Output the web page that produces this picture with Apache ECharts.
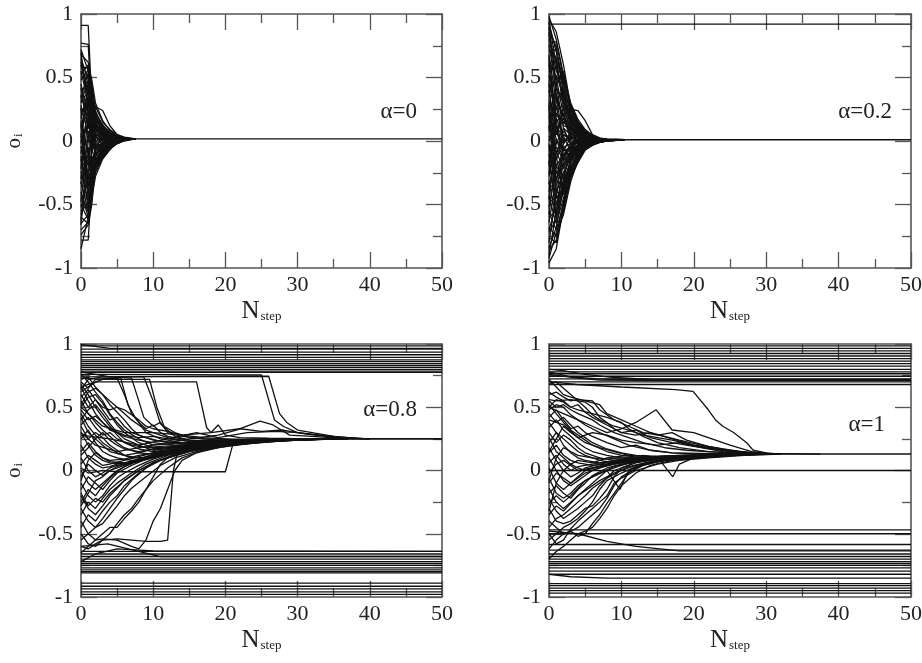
<!DOCTYPE html>
<html>
<head>
<meta charset="utf-8">
<script src="https://cdn.jsdelivr.net/npm/echarts@6/dist/echarts.min.js"></script>
<style>
html,body{margin:0;padding:0;background:#fff;}
#chart{width:922px;height:663px;}
</style>
</head>
<body>
<div id="chart"></div>
<script>
// ---------------- DATA ----------------
const xTicks = [0, 10, 20, 30, 40, 50];
const yTicks = [-1, -0.5, 0, 0.5, 1];
const panelLabels = ['α=0', 'α=0.2', 'α=0.8', 'α=1'];

// alpha = 0 : values on a shared step grid
const steps00 = [0, 1, 1.5, 2, 3, 4, 5, 6, 7.5];
const traj00 = [
  [0.91, 0.91, 0.30, 0.18, 0.10, 0.06, 0.04, 0.025, 0.016],
  [0.77, 0.76, 0.20, 0.10, 0.05, 0.03, 0.02, 0.018, 0.016],
  [0.72, 0.55, 0.40, 0.22, 0.12, 0.07, 0.04, 0.02, 0.016],
  [0.65, 0.48, 0.35, 0.27, 0.15, 0.09, 0.05, 0.03, 0.016],
  [0.58, 0.58, 0.42, 0.20, 0.08, 0.04, 0.03, 0.02, 0.016],
  [0.55, 0.30, 0.15, 0.05, -0.03, 0.01, 0.02, 0.02, 0.016],
  [0.50, 0.52, 0.25, 0.12, 0.06, 0.03, 0.02, 0.017, 0.016],
  [0.45, 0.20, 0.38, 0.16, 0.09, 0.05, 0.03, 0.02, 0.016],
  [0.40, 0.44, 0.10, -0.05, 0.02, 0.00, 0.01, 0.015, 0.016],
  [0.36, 0.15, 0.22, 0.14, 0.07, 0.04, 0.025, 0.02, 0.016],
  [0.32, 0.38, 0.05, 0.08, 0.03, 0.02, 0.018, 0.016, 0.016],
  [0.28, 0.05, -0.10, 0.02, 0.05, 0.03, 0.02, 0.017, 0.016],
  [0.24, 0.28, 0.30, 0.27, 0.24, 0.12, 0.05, 0.025, 0.016],
  [0.20, 0.30, 0.18, 0.10, 0.04, 0.02, 0.016, 0.016, 0.016],
  [0.16, -0.10, 0.00, -0.04, -0.02, 0.00, 0.01, 0.014, 0.016],
  [0.12, 0.22, -0.05, 0.06, 0.01, 0.03, 0.02, 0.016, 0.016],
  [0.08, 0.10, 0.12, 0.00, 0.04, 0.01, 0.015, 0.016, 0.016],
  [0.04, -0.20, -0.15, -0.08, -0.04, -0.01, 0.00, 0.012, 0.016],
  [0.00, 0.12, 0.08, 0.10, 0.02, 0.02, 0.018, 0.016, 0.016],
  [-0.04, -0.30, -0.22, -0.12, -0.05, -0.02, 0.00, 0.01, 0.016],
  [-0.08, 0.02, 0.14, 0.03, 0.00, 0.01, 0.015, 0.016, 0.016],
  [-0.12, -0.40, -0.18, -0.15, -0.12, -0.06, -0.02, 0.005, 0.016],
  [-0.16, -0.05, -0.25, -0.02, 0.02, 0.00, 0.01, 0.015, 0.016],
  [-0.20, -0.15, 0.05, -0.10, -0.03, -0.01, 0.01, 0.014, 0.016],
  [-0.24, -0.48, -0.30, -0.20, -0.12, -0.06, -0.02, 0.00, 0.016],
  [-0.28, -0.25, -0.10, 0.05, 0.03, 0.02, 0.016, 0.016, 0.016],
  [-0.32, -0.55, -0.35, -0.18, -0.08, -0.03, 0.00, 0.01, 0.016],
  [-0.36, -0.35, -0.20, -0.06, -0.01, 0.01, 0.015, 0.016, 0.016],
  [-0.40, -0.60, -0.28, -0.22, -0.14, -0.07, -0.01, 0.01, 0.016],
  [-0.45, -0.42, -0.40, -0.15, -0.06, -0.02, 0.005, 0.012, 0.016],
  [-0.50, -0.62, -0.15, -0.08, -0.02, 0.00, 0.01, 0.015, 0.016],
  [-0.55, -0.50, -0.38, -0.23, -0.11, -0.04, 0.00, 0.01, 0.016],
  [-0.60, -0.65, -0.45, -0.12, -0.04, -0.01, 0.01, 0.015, 0.016],
  [-0.65, -0.58, -0.30, -0.20, -0.09, -0.03, 0.00, 0.012, 0.016],
  [-0.70, -0.64, -0.42, -0.25, -0.13, -0.05, -0.01, 0.01, 0.016],
  [-0.78, -0.78, -0.30, -0.16, -0.07, -0.02, 0.005, 0.012, 0.016],
  [-0.85, -0.60, -0.36, -0.10, -0.05, -0.02, 0.00, 0.01, 0.016],
  [0.68, 0.62, 0.45, 0.24, 0.10, 0.05, 0.03, 0.02, 0.016],
  [0.62, 0.40, 0.28, 0.12, 0.06, 0.03, 0.02, 0.018, 0.016],
  [0.48, 0.56, 0.33, 0.20, 0.11, 0.06, 0.035, 0.02, 0.016],
  [0.30, 0.48, 0.20, 0.07, 0.00, 0.01, 0.015, 0.016, 0.016],
  [0.10, 0.35, 0.02, -0.06, -0.03, 0.00, 0.012, 0.016, 0.016],
  [-0.10, 0.25, -0.08, 0.04, 0.06, 0.04, 0.025, 0.018, 0.016],
  [-0.30, 0.18, 0.10, 0.13, 0.08, 0.05, 0.03, 0.02, 0.016],
  [-0.52, -0.30, -0.05, 0.00, 0.02, 0.02, 0.018, 0.016, 0.016],
  [0.26, -0.35, -0.32, -0.10, -0.06, -0.02, 0.00, 0.012, 0.016],
  [0.14, -0.45, -0.12, -0.18, -0.05, -0.015, 0.005, 0.012, 0.016],
  [-0.66, 0.00, 0.25, 0.09, 0.05, 0.03, 0.02, 0.017, 0.016],
  [0.60, 0.35, 0.10, 0.15, 0.05, 0.03, 0.02, 0.017, 0.016],
  [0.52, 0.60, 0.48, 0.30, 0.16, 0.08, 0.04, 0.02, 0.016],
  [0.42, 0.10, 0.30, 0.22, 0.13, 0.06, 0.03, 0.02, 0.016],
  [0.34, 0.54, 0.36, 0.18, 0.08, 0.04, 0.025, 0.018, 0.016],
  [0.18, 0.40, 0.15, -0.02, -0.04, -0.01, 0.01, 0.014, 0.016],
  [0.06, -0.35, -0.25, -0.14, -0.07, -0.03, 0.00, 0.01, 0.016],
  [-0.02, 0.45, 0.20, 0.12, 0.06, 0.03, 0.02, 0.017, 0.016],
  [-0.14, -0.52, -0.40, -0.20, -0.09, -0.04, -0.01, 0.008, 0.016],
  [-0.22, 0.32, 0.28, 0.16, 0.09, 0.05, 0.03, 0.02, 0.016],
  [-0.34, -0.10, -0.30, -0.22, -0.10, -0.04, 0.00, 0.01, 0.016],
  [-0.42, -0.56, -0.20, -0.04, 0.01, 0.015, 0.016, 0.016, 0.016],
  [-0.48, 0.08, -0.02, 0.10, 0.05, 0.03, 0.02, 0.017, 0.016],
  [-0.58, -0.40, -0.45, -0.28, -0.14, -0.06, -0.02, 0.005, 0.016],
  [-0.62, -0.20, 0.08, -0.06, -0.02, 0.00, 0.01, 0.015, 0.016],
  [-0.74, -0.66, -0.50, -0.18, -0.06, -0.02, 0.005, 0.012, 0.016],
  [0.70, 0.24, -0.15, -0.12, -0.03, 0.00, 0.01, 0.015, 0.016]
];
const consensus00 = [[7.5, 0.016], [50, 0.016]];

// alpha = 0.2
const steps02 = [0, 1, 2, 3, 4, 5, 6, 7, 8, 10.5];
const traj02 = [
  [0.98, 0.80, 0.52, 0.30, 0.17, 0.09, 0.045, 0.02, 0.015, 0.01],
  [0.93, 0.70, 0.48, 0.28, 0.15, 0.08, 0.04, 0.02, 0.014, 0.01],
  [0.88, 0.74, 0.40, 0.25, 0.24, 0.16, 0.05, 0.025, 0.015, 0.01],
  [0.84, 0.55, 0.45, 0.22, 0.12, 0.06, 0.03, 0.02, 0.012, 0.01],
  [0.80, 0.62, 0.30, 0.18, 0.10, 0.05, 0.03, 0.018, 0.012, 0.01],
  [0.76, 0.40, 0.35, 0.20, 0.08, 0.04, 0.025, 0.015, 0.012, 0.01],
  [0.72, 0.66, 0.25, 0.10, 0.05, 0.03, 0.02, 0.015, 0.012, 0.01],
  [0.68, 0.30, 0.42, 0.15, 0.06, 0.02, 0.015, 0.012, 0.011, 0.01],
  [0.64, 0.50, 0.20, 0.26, 0.11, 0.05, 0.025, 0.015, 0.012, 0.01],
  [0.60, 0.20, 0.15, 0.08, 0.04, 0.02, 0.015, 0.012, 0.011, 0.01],
  [0.56, 0.58, 0.32, 0.12, 0.02, 0.01, 0.01, 0.01, 0.01, 0.01],
  [0.52, 0.10, 0.05, 0.02, 0.03, 0.02, 0.015, 0.012, 0.011, 0.01],
  [0.48, 0.45, 0.10, 0.05, 0.07, 0.04, 0.02, 0.015, 0.012, 0.01],
  [0.44, 0.25, 0.28, 0.14, 0.09, 0.05, 0.03, 0.015, 0.012, 0.01],
  [0.40, 0.00, -0.05, -0.02, 0.00, 0.01, 0.01, 0.01, 0.01, 0.01],
  [0.36, 0.35, 0.00, 0.04, 0.01, 0.015, 0.012, 0.011, 0.01, 0.01],
  [0.32, 0.15, 0.22, 0.06, 0.03, 0.02, 0.014, 0.012, 0.011, 0.01],
  [0.28, -0.10, 0.08, 0.00, -0.02, 0.00, 0.005, 0.008, 0.01, 0.01],
  [0.24, 0.38, 0.12, 0.10, 0.04, 0.02, 0.014, 0.012, 0.011, 0.01],
  [0.20, -0.20, -0.10, -0.06, -0.03, -0.01, 0.00, 0.006, 0.009, 0.01],
  [0.16, 0.05, 0.18, 0.02, 0.05, 0.03, 0.018, 0.013, 0.011, 0.01],
  [0.12, -0.30, -0.20, -0.10, -0.05, -0.02, 0.00, 0.005, 0.008, 0.01],
  [0.08, 0.28, -0.02, 0.07, 0.02, 0.01, 0.01, 0.01, 0.01, 0.01],
  [0.04, -0.05, -0.15, -0.04, 0.00, 0.005, 0.008, 0.01, 0.01, 0.01],
  [0.00, 0.18, 0.04, -0.08, -0.04, -0.01, 0.00, 0.006, 0.009, 0.01],
  [-0.04, -0.40, -0.25, -0.12, -0.06, -0.02, -0.005, 0.004, 0.008, 0.01],
  [-0.08, 0.08, -0.08, 0.03, 0.00, 0.00, 0.006, 0.009, 0.01, 0.01],
  [-0.12, -0.15, 0.02, -0.01, 0.01, 0.01, 0.01, 0.01, 0.01, 0.01],
  [-0.16, -0.50, -0.35, -0.15, -0.08, -0.03, -0.01, 0.00, 0.006, 0.01],
  [-0.20, 0.12, -0.12, -0.05, -0.01, 0.005, 0.008, 0.01, 0.01, 0.01],
  [-0.24, -0.25, -0.30, -0.18, -0.10, -0.04, -0.015, 0.00, 0.006, 0.01],
  [-0.28, -0.02, 0.10, -0.03, 0.02, 0.01, 0.01, 0.01, 0.01, 0.01],
  [-0.32, -0.60, -0.40, -0.20, -0.12, -0.05, -0.02, -0.005, 0.004, 0.01],
  [-0.36, -0.35, -0.18, -0.07, -0.03, -0.01, 0.00, 0.006, 0.009, 0.01],
  [-0.40, -0.08, -0.22, -0.09, -0.04, -0.015, 0.00, 0.006, 0.009, 0.01],
  [-0.44, -0.65, -0.45, -0.24, -0.14, -0.06, -0.03, -0.01, 0.002, 0.01],
  [-0.48, -0.45, -0.05, -0.14, -0.06, -0.02, -0.005, 0.004, 0.008, 0.01],
  [-0.52, -0.20, -0.28, -0.11, -0.05, -0.02, -0.005, 0.004, 0.008, 0.01],
  [-0.56, -0.70, -0.50, -0.26, -0.15, -0.065, -0.03, -0.01, 0.002, 0.01],
  [-0.60, -0.55, -0.38, -0.16, -0.07, -0.025, -0.008, 0.003, 0.008, 0.01],
  [-0.64, -0.30, -0.12, -0.02, -0.02, -0.005, 0.004, 0.008, 0.01, 0.01],
  [-0.68, -0.75, -0.48, -0.22, -0.09, -0.035, -0.012, 0.002, 0.007, 0.01],
  [-0.72, -0.62, -0.32, -0.20, -0.13, -0.05, -0.02, -0.005, 0.004, 0.01],
  [-0.76, -0.80, -0.53, -0.28, -0.16, -0.07, -0.03, -0.01, 0.002, 0.01],
  [-0.80, -0.40, -0.42, -0.13, -0.05, -0.02, -0.005, 0.004, 0.008, 0.01],
  [-0.86, -0.78, -0.55, -0.29, -0.17, -0.07, -0.035, -0.01, 0.0, 0.01],
  [-0.92, -0.72, -0.58, -0.32, -0.15, -0.06, -0.025, -0.008, 0.002, 0.01],
  [0.96, 0.86, 0.60, 0.27, 0.14, 0.07, 0.035, 0.018, 0.013, 0.01],
  [0.90, 0.45, 0.55, 0.24, 0.13, 0.065, 0.03, 0.017, 0.012, 0.01],
  [0.70, 0.72, 0.38, 0.16, 0.07, 0.035, 0.02, 0.014, 0.011, 0.01],
  [0.62, 0.05, 0.26, 0.09, 0.045, 0.025, 0.015, 0.012, 0.011, 0.01],
  [-0.10, -0.58, -0.14, -0.04, -0.01, 0.00, 0.006, 0.009, 0.01, 0.01],
  [0.30, -0.38, -0.33, -0.16, -0.09, -0.03, -0.01, 0.002, 0.007, 0.01],
  [-0.26, 0.22, 0.15, 0.11, 0.06, 0.035, 0.02, 0.014, 0.011, 0.01],
  [0.94, 0.60, 0.35, 0.20, 0.11, 0.055, 0.03, 0.017, 0.012, 0.01],
  [0.86, 0.35, 0.18, 0.12, 0.06, 0.03, 0.02, 0.014, 0.011, 0.01],
  [0.78, 0.78, 0.50, 0.28, 0.15, 0.075, 0.035, 0.018, 0.013, 0.01],
  [0.66, 0.15, -0.08, -0.05, -0.01, 0.005, 0.008, 0.01, 0.01, 0.01],
  [0.54, 0.64, 0.46, 0.21, 0.09, 0.04, 0.02, 0.014, 0.011, 0.01],
  [0.46, -0.25, -0.18, -0.08, -0.03, -0.01, 0.00, 0.006, 0.009, 0.01],
  [0.38, 0.52, 0.36, 0.13, 0.05, 0.025, 0.015, 0.012, 0.011, 0.01],
  [0.26, -0.45, -0.38, -0.21, -0.11, -0.045, -0.015, 0.00, 0.006, 0.01],
  [0.10, 0.42, 0.30, 0.17, 0.08, 0.04, 0.02, 0.014, 0.011, 0.01],
  [-0.02, -0.32, -0.02, 0.05, 0.03, 0.02, 0.014, 0.012, 0.011, 0.01],
  [-0.18, 0.32, 0.20, 0.04, -0.02, 0.00, 0.006, 0.009, 0.01, 0.01],
  [-0.34, -0.12, -0.42, -0.23, -0.12, -0.05, -0.02, -0.005, 0.004, 0.01],
  [-0.46, 0.02, -0.15, -0.10, -0.045, -0.015, 0.00, 0.006, 0.009, 0.01],
  [-0.58, -0.10, 0.05, 0.01, 0.00, 0.005, 0.008, 0.01, 0.01, 0.01],
  [-0.70, -0.50, -0.25, -0.12, -0.04, -0.01, 0.004, 0.008, 0.01, 0.01],
  [-0.84, -0.68, -0.35, -0.15, -0.08, -0.03, -0.01, 0.002, 0.007, 0.01],
  [-0.90, -0.55, -0.30, -0.06, 0.00, 0.006, 0.008, 0.01, 0.01, 0.01],
  [-0.96, -0.85, -0.52, -0.27, -0.14, -0.06, -0.025, -0.008, 0.002, 0.01]
];
const consensus02 = [[10.5, 0.01], [50, 0.01]];
const fixed02 = [0.92];

// alpha = 0.8 : [step, value] pairs
const traj08 = [
  [[0,0.76],[1,0.7],[2,0.62],[3,0.55],[4,0.45],[5,0.38],[6,0.32],[8,0.25],[10,0.2],[12,0.21],[15,0.22],[20,0.23],[26,0.245],[32,0.25]],
  [[0,0.72],[1,0.74],[2,0.66],[3,0.6],[4,0.52],[5,0.46],[6,0.4],[7,0.33],[8,0.28],[10,0.24],[13,0.22],[17,0.22],[22,0.235],[28,0.245],[34,0.25]],
  [[0,0.68],[1,0.6],[2,0.5],[3,0.42],[4,0.35],[5,0.28],[6,0.22],[8,0.17],[10,0.15],[13,0.17],[16,0.19],[20,0.21],[25,0.235],[30,0.245],[36,0.25]],
  [[0,0.78],[2,0.76],[4,0.74],[7,0.73],[8,0.55],[8.7,0.42],[10,0.35],[11,0.38],[12,0.3],[14,0.27],[17,0.25],[22,0.245],[28,0.25]],
  [[0,0.64],[1,0.72],[3,0.74],[6,0.74],[8.7,0.74],[10,0.55],[11,0.37],[12,0.32],[13,0.27],[15,0.24],[18,0.23],[24,0.24],[30,0.25]],
  [[0,0.6],[1,0.5],[2,0.56],[3,0.48],[4,0.4],[5,0.42],[6,0.35],[7,0.3],[9,0.26],[11,0.23],[14,0.21],[18,0.22],[24,0.24],[30,0.25]],
  [[0,0.55],[1,0.45],[2,0.38],[3,0.32],[4,0.27],[5,0.22],[6,0.18],[8,0.14],[10,0.13],[12,0.15],[15,0.18],[18,0.2],[22,0.22],[27,0.24],[33,0.25]],
  [[0,0.5],[1,0.58],[2,0.6],[3,0.53],[4,0.44],[5,0.36],[6,0.3],[8,0.22],[10,0.18],[12,0.18],[16,0.2],[20,0.22],[26,0.24],[32,0.25]],
  [[0,0.45],[1,0.35],[2,0.28],[3,0.22],[4,0.18],[5,0.14],[7,0.1],[9,0.1],[11,0.12],[14,0.16],[18,0.19],[22,0.21],[27,0.235],[34,0.25]],
  [[0,0.4],[1,0.48],[2,0.52],[3,0.45],[4,0.37],[5,0.3],[6,0.25],[8,0.2],[10,0.16],[13,0.18],[17,0.2],[21,0.22],[26,0.24],[31,0.25]],
  [[0,0.35],[1,0.25],[2,0.3],[3,0.26],[4,0.2],[5,0.16],[6,0.12],[8,0.1],[10,0.11],[12,0.13],[15,0.17],[19,0.2],[24,0.23],[30,0.245],[36,0.25]],
  [[0,0.3],[1,0.2],[2,0.12],[3,0.08],[4,0.06],[6,0.05],[8,0.07],[10,0.1],[13,0.14],[16,0.17],[20,0.2],[25,0.23],[31,0.245],[37,0.25]],
  [[0,0.25],[1,0.32],[2,0.22],[3,0.15],[4,0.12],[5,0.1],[7,0.08],[9,0.09],[11,0.12],[14,0.15],[18,0.19],[23,0.22],[28,0.24],[34,0.25]],
  [[0,0.2],[1,0.1],[2,0.05],[3,0.02],[4,0.03],[5,0.05],[7,0.07],[9,0.1],[12,0.14],[15,0.17],[19,0.2],[24,0.23],[30,0.245],[36,0.25]],
  [[0,0.15],[1,0.22],[2,0.15],[3,0.1],[4,0.08],[6,0.09],[8,0.12],[10,0.14],[13,0.17],[17,0.2],[22,0.22],[27,0.24],[33,0.25]],
  [[0,0.1],[1,0.0],[2,-0.05],[3,-0.02],[4,0.02],[5,0.04],[7,0.06],[9,0.09],[12,0.13],[16,0.18],[20,0.2],[25,0.23],[31,0.245],[37,0.25]],
  [[0,0.05],[1,0.12],[2,0.08],[3,0.04],[4,0.05],[6,0.08],[8,0.11],[10,0.14],[13,0.17],[17,0.2],[22,0.225],[28,0.24],[35,0.25]],
  [[0,0.0],[1,-0.1],[2,-0.15],[3,-0.1],[4,-0.05],[5,0.0],[6,0.03],[8,0.08],[10,0.12],[13,0.16],[17,0.19],[22,0.22],[28,0.24],[35,0.25]],
  [[0,-0.05],[1,0.05],[2,0.0],[3,-0.04],[4,0.0],[5,0.03],[7,0.07],[9,0.1],[12,0.14],[15,0.17],[19,0.2],[24,0.225],[30,0.24],[36,0.25]],
  [[0,-0.1],[1,-0.2],[2,-0.25],[3,-0.2],[4,-0.12],[5,-0.06],[6,-0.02],[8,0.04],[10,0.09],[12,0.13],[15,0.17],[19,0.2],[24,0.225],[30,0.245],[36,0.25]],
  [[0,-0.15],[1,-0.05],[2,-0.1],[3,-0.15],[4,-0.08],[5,-0.02],[7,0.04],[9,0.09],[12,0.14],[16,0.18],[20,0.21],[25,0.23],[31,0.245],[37,0.25]],
  [[0,-0.2],[1,-0.3],[2,-0.35],[3,-0.28],[4,-0.2],[5,-0.14],[6,-0.08],[8,0.0],[10,0.06],[12,0.1],[15,0.15],[19,0.19],[24,0.22],[30,0.24],[36,0.25]],
  [[0,-0.25],[1,-0.15],[2,-0.2],[3,-0.12],[4,-0.06],[5,-0.01],[6,0.03],[8,0.08],[11,0.13],[14,0.17],[18,0.2],[23,0.22],[29,0.24],[35,0.25]],
  [[0,-0.3],[1,-0.4],[2,-0.45],[3,-0.38],[4,-0.3],[5,-0.22],[6,-0.15],[7,-0.08],[9,0.02],[11,0.08],[14,0.14],[18,0.19],[23,0.22],[29,0.24],[35,0.25]],
  [[0,-0.35],[1,-0.25],[2,-0.3],[3,-0.22],[4,-0.15],[5,-0.1],[7,-0.02],[9,0.05],[12,0.12],[15,0.16],[19,0.2],[24,0.225],[30,0.245],[36,0.25]],
  [[0,-0.4],[1,-0.5],[2,-0.55],[3,-0.5],[4,-0.45],[5,-0.45],[6,-0.38],[7,-0.32],[8,-0.25],[9,-0.15],[10,-0.05],[11,0.05],[12,0.1],[14,0.14],[17,0.18],[21,0.21],[26,0.235],[32,0.25]],
  [[0,-0.45],[1,-0.35],[2,-0.4],[3,-0.32],[4,-0.25],[5,-0.2],[6,-0.12],[8,-0.02],[10,0.06],[12,0.1],[15,0.15],[19,0.19],[24,0.22],[30,0.24],[36,0.25]],
  [[0,-0.5],[1,-0.58],[2,-0.6],[3,-0.55],[4,-0.5],[5,-0.42],[6,-0.35],[7,-0.3],[8,-0.22],[9,-0.15],[10,-0.08],[12,0.02],[14,0.1],[17,0.16],[21,0.2],[26,0.23],[32,0.25]],
  [[0,-0.55],[1,-0.5],[2,-0.45],[3,-0.42],[4,-0.35],[5,-0.28],[6,-0.2],[7,-0.14],[9,-0.05],[11,0.04],[13,0.1],[16,0.15],[20,0.2],[25,0.23],[31,0.245],[37,0.25]],
  [[0,-0.6],[1,-0.62],[2,-0.58],[3,-0.55],[5,-0.54],[7,-0.55],[9,-0.56],[11,-0.56],[12,-0.55],[12.8,0.0],[13.5,0.18],[15,0.2],[18,0.21],[22,0.22],[27,0.24],[33,0.25]],
  [[0,-0.65],[1,-0.6],[2,-0.55],[3,-0.54],[5,-0.55],[7,-0.6],[8,-0.62],[9,-0.55],[10,-0.4],[11,-0.3],[12,-0.15],[13,0.0],[14,0.08],[16,0.14],[19,0.18],[23,0.21],[28,0.235],[34,0.25]],
  [[0,0.02],[1,-0.02],[3,0.0],[5,-0.01],[8,-0.01],[12,-0.01],[16,-0.01],[20,-0.01],[21,0.2],[23,0.21],[27,0.235],[33,0.25]],
  [[0,0.66],[1,0.68],[2.3,0.70],[16,0.70],[17.4,0.34],[18,0.3],[19,0.36],[20,0.28],[22,0.26],[26,0.255],[32,0.25]],
  [[0,0.76],[25,0.755],[26.8,0.40],[28,0.35],[30,0.3],[33,0.28],[36,0.26],[40,0.25]],
  [[0,0.74],[26,0.745],[27.5,0.45],[28.5,0.38],[30,0.32],[32,0.3],[35,0.27],[39,0.25]],
  [[0,0.3],[2,0.2],[5,0.15],[10,0.2],[15,0.25],[19,0.28],[21.5,0.32],[24.8,0.39],[26.6,0.36],[28.9,0.28],[32,0.27],[36,0.255],[40,0.25]],
  [[0,0.5],[3,0.35],[6,0.3],[10,0.3],[14,0.28],[18,0.3],[22,0.33],[25,0.31],[28,0.32],[31,0.29],[34,0.27],[38,0.25]],
  [[0,0.28],[4,0.25],[8,0.2],[12,0.25],[16,0.3],[19,0.26],[23,0.3],[27,0.31],[30,0.3],[33,0.28],[37,0.26],[40,0.25]],
  [[0,0.62],[1,0.66],[2,0.7],[3,0.72],[5,0.73],[6,0.6],[7,0.45],[8,0.38],[9,0.33],[10,0.36],[11,0.3],[12,0.27],[15,0.24],[20,0.235],[26,0.245],[32,0.25]],
  [[0,0.7],[1,0.65],[2,0.72],[4,0.73],[5.5,0.73],[6.5,0.52],[7.5,0.42],[9,0.3],[11,0.25],[14,0.22],[18,0.22],[24,0.24],[30,0.25]],
  [[0,0.58],[1,0.64],[2,0.56],[3,0.5],[4,0.48],[5,0.5],[6,0.45],[7,0.4],[8,0.36],[9,0.32],[10,0.3],[12,0.26],[15,0.23],[20,0.23],[26,0.245],[32,0.25]],
  [[0,0.48],[1,0.4],[2,0.43],[3,0.38],[4,0.32],[5,0.3],[6,0.27],[8,0.24],[10,0.22],[13,0.2],[17,0.21],[22,0.23],[28,0.245],[34,0.25]],
  [[0,0.42],[1,0.3],[2,0.25],[3,0.3],[4,0.24],[5,0.2],[6,0.17],[8,0.15],[10,0.17],[13,0.19],[17,0.21],[22,0.23],[28,0.245],[34,0.25]],
  [[0,0.36],[1,0.42],[2,0.34],[3,0.28],[4,0.3],[5,0.25],[7,0.2],[9,0.18],[11,0.19],[14,0.2],[18,0.21],[23,0.23],[29,0.245],[35,0.25]],
  [[0,0.12],[1,0.18],[2,0.25],[3,0.2],[4,0.15],[6,0.12],[8,0.14],[10,0.17],[13,0.19],[17,0.21],[21,0.225],[26,0.24],[32,0.25]],
  [[0,-0.08],[1,0.08],[2,0.14],[3,0.1],[4,0.07],[6,0.06],[8,0.09],[10,0.12],[13,0.16],[17,0.19],[21,0.215],[26,0.235],[32,0.25]],
  [[0,-0.28],[1,-0.18],[2,-0.08],[3,-0.05],[4,0.0],[6,0.04],[8,0.09],[10,0.13],[13,0.17],[17,0.2],[22,0.225],[28,0.24],[34,0.25]],
  [[0,-0.18],[1,-0.28],[2,-0.22],[3,-0.25],[4,-0.18],[6,-0.08],[8,0.0],[10,0.06],[13,0.13],[16,0.17],[20,0.2],[25,0.23],[31,0.245],[37,0.25]],
  [[0,0.66],[1,0.55],[2,0.45],[3,0.38],[4,0.33],[6,0.28],[8,0.26],[10,0.27],[12,0.25],[15,0.23],[19,0.225],[24,0.24],[30,0.25]],
  [[0,0.52],[1,0.62],[2,0.65],[3,0.6],[4,0.55],[5,0.5],[6,0.48],[7,0.44],[8,0.4],[9,0.35],[10,0.33],[12,0.31],[14,0.28],[17,0.26],[21,0.245],[27,0.25]],
  [[0,0.73],[3,0.72],[7,0.72],[9.5,0.72],[10.5,0.5],[11.5,0.35],[13,0.3],[15,0.26],[19,0.24],[25,0.245],[31,0.25]]
];
const consensus08 = [[27, 0.25], [50, 0.25]];
const fixed08 = [0.985, 0.96, 0.935, 0.915, 0.895, 0.875, 0.86, 0.845, 0.83, 0.815, 0.80, 0.785, 0.775,
  -0.64, -0.66, -0.68, -0.70, -0.72, -0.735, -0.75, -0.77, -0.785, -0.80, -0.81, -0.89, -0.915, -0.935, -0.96, -0.98];
const drift08 = [
  [[0,0.995],[4,0.965],[50,0.965]],
  [[0,-0.6],[3.7,-0.58],[11,-0.68],[50,-0.68]],
  [[0,-0.72],[2,-0.66],[5,-0.62],[10,-0.635],[50,-0.64]]
];

// alpha = 1
const traj10 = [
  [[0,0.7],[2,0.69],[3.8,0.68],[10,0.66],[17.5,0.64],[19.9,0.625],[22,0.48],[23,0.40],[24,0.35],[25.5,0.3],[27.3,0.22],[28.2,0.16],[30,0.14],[32,0.13]],
  [[0,0.72],[1,0.66],[2,0.6],[3,0.58],[5,0.55],[7,0.52],[8,0.45],[10,0.4],[12,0.35],[14,0.3],[17,0.25],[20,0.2],[23,0.17],[27,0.14],[31,0.13]],
  [[0,0.5],[2,0.45],[4,0.4],[6,0.35],[8,0.3],[10,0.33],[12,0.38],[14.8,0.48],[17,0.32],[20,0.3],[22,0.26],[25,0.2],[28,0.15],[31,0.13]],
  [[0,0.56],[1,0.55],[3,0.56],[5,0.54],[6,0.5],[7,0.42],[8,0.38],[9,0.33],[10,0.3],[12,0.28],[14,0.3],[16,0.27],[18,0.24],[21,0.2],[24,0.17],[28,0.14],[32,0.13]],
  [[0,0.55],[1,0.5],[2,0.52],[3,0.48],[4,0.45],[6,0.4],[7,0.36],[9,0.3],[11,0.26],[13,0.22],[16,0.18],[19,0.16],[23,0.145],[28,0.135],[31,0.13]],
  [[0,0.52],[1,0.45],[2,0.38],[3,0.32],[4,0.28],[5,0.24],[6,0.2],[8,0.15],[10,0.12],[13,0.1],[16,0.1],[20,0.11],[25,0.125],[30,0.13]],
  [[0,0.48],[1,0.52],[2,0.5],[3,0.44],[4,0.4],[5,0.36],[7,0.3],[9,0.25],[11,0.2],[14,0.16],[17,0.14],[21,0.13],[26,0.13]],
  [[0,0.45],[1,0.38],[2,0.42],[3,0.36],[4,0.3],[5,0.26],[6,0.22],[8,0.17],[10,0.14],[12,0.12],[15,0.11],[19,0.115],[24,0.125],[29,0.13]],
  [[0,0.42],[1,0.48],[2,0.4],[3,0.33],[4,0.35],[5,0.3],[6,0.27],[8,0.22],[10,0.18],[12,0.2],[14,0.16],[17,0.14],[21,0.135],[26,0.13]],
  [[0,0.38],[1,0.3],[2,0.25],[3,0.2],[4,0.15],[5,0.12],[7,0.08],[9,0.06],[11,0.07],[14,0.09],[18,0.11],[22,0.12],[27,0.13]],
  [[0,0.34],[1,0.4],[2,0.32],[3,0.27],[4,0.22],[5,0.18],[6,0.15],[8,0.12],[10,0.1],[13,0.09],[16,0.1],[20,0.115],[25,0.125],[30,0.13]],
  [[0,0.3],[1,0.22],[2,0.28],[3,0.24],[4,0.18],[5,0.14],[7,0.1],[9,0.08],[11,0.09],[14,0.1],[18,0.115],[23,0.125],[28,0.13]],
  [[0,0.26],[1,0.15],[2,0.1],[3,0.05],[4,0.02],[5,0.0],[6,0.02],[8,0.05],[10,0.07],[13,0.09],[16,0.1],[20,0.115],[25,0.125],[30,0.13]],
  [[0,0.22],[1,0.3],[2,0.2],[3,0.14],[4,0.1],[5,0.08],[7,0.06],[9,0.07],[12,0.09],[15,0.1],[19,0.115],[24,0.125],[29,0.13]],
  [[0,0.18],[1,0.08],[2,0.0],[3,-0.05],[4,-0.02],[5,0.02],[7,0.05],[9,0.07],[12,0.09],[15,0.1],[19,0.11],[24,0.12],[29,0.13]],
  [[0,0.14],[1,0.2],[2,0.12],[3,0.08],[4,0.06],[6,0.04],[8,0.05],[10,0.08],[13,0.1],[16,0.11],[20,0.12],[25,0.13]],
  [[0,0.1],[1,0.0],[2,-0.08],[3,-0.12],[4,-0.08],[5,-0.04],[6,0.0],[8,0.04],[10,0.06],[13,0.08],[17,0.1],[21,0.115],[26,0.125],[31,0.13]],
  [[0,0.06],[1,0.12],[2,0.05],[3,0.0],[4,0.03],[6,0.05],[8,0.07],[10,0.09],[13,0.1],[17,0.11],[22,0.12],[27,0.13]],
  [[0,0.02],[1,-0.1],[2,-0.15],[3,-0.1],[4,-0.06],[5,-0.02],[7,0.02],[9,0.05],[12,0.08],[15,0.1],[19,0.11],[24,0.12],[29,0.13]],
  [[0,-0.02],[1,0.05],[2,0.08],[3,0.04],[4,0.0],[6,0.02],[8,0.04],[10,0.07],[13,0.09],[16,0.1],[20,0.115],[25,0.125],[30,0.13]],
  [[0,-0.06],[1,-0.18],[2,-0.22],[3,-0.18],[4,-0.12],[5,-0.08],[6,-0.05],[8,0.0],[10,0.04],[12,0.07],[15,0.09],[19,0.11],[24,0.12],[29,0.13]],
  [[0,-0.1],[1,-0.02],[2,-0.06],[3,-0.1],[4,-0.05],[5,0.0],[7,0.03],[9,0.06],[12,0.09],[15,0.1],[19,0.115],[24,0.125],[29,0.13]],
  [[0,-0.14],[1,-0.25],[2,-0.3],[3,-0.25],[4,-0.2],[5,-0.15],[6,-0.1],[7,-0.05],[8,0.0],[9.8,-0.15],[11,0.0],[13,0.05],[16,0.08],[20,0.1],[25,0.12],[30,0.13]],
  [[0,-0.18],[1,-0.12],[2,-0.18],[3,-0.22],[4,-0.15],[5,-0.1],[6,-0.04],[8,0.02],[10,0.05],[13,0.08],[17,0.1],[22,0.12],[27,0.13]],
  [[0,-0.22],[1,-0.32],[2,-0.38],[3,-0.34],[4,-0.3],[5,-0.25],[6,-0.2],[7,-0.12],[8,-0.06],[9,0.0],[11,0.04],[13,0.12],[15,0.1],[16,0.03],[17.1,-0.05],[18,0.05],[20,0.1],[24,0.12],[29,0.13]],
  [[0,-0.26],[1,-0.2],[2,-0.25],[3,-0.2],[4,-0.14],[5,-0.08],[7,-0.02],[9,0.03],[11,0.06],[14,0.08],[18,0.1],[23,0.12],[28,0.13]],
  [[0,-0.3],[1,-0.4],[2,-0.42],[3,-0.4],[4,-0.35],[5,-0.3],[6,-0.28],[7,-0.22],[8,-0.15],[9,-0.05],[10,0.02],[12,0.06],[15,0.09],[19,0.11],[24,0.12],[29,0.13]],
  [[0,-0.35],[1,-0.28],[2,-0.32],[3,-0.26],[4,-0.2],[5,-0.16],[7,-0.08],[9,-0.02],[11,0.03],[14,0.07],[18,0.1],[23,0.12],[28,0.13]],
  [[0,-0.4],[1,-0.45],[2,-0.5],[3,-0.48],[4,-0.45],[5,-0.4],[6,-0.35],[7,-0.3],[8,-0.22],[9,-0.12],[10,-0.05],[12,0.02],[14,0.06],[17,0.09],[21,0.11],[26,0.125],[31,0.13]],
  [[0,-0.45],[1,-0.38],[2,-0.35],[3,-0.3],[4,-0.25],[5,-0.2],[6,-0.14],[8,-0.06],[10,0.0],[12,0.04],[15,0.08],[19,0.1],[24,0.12],[29,0.13]],
  [[0,-0.55],[1,-0.5],[2,-0.45],[3,-0.42],[4,-0.38],[5,-0.32],[6,-0.25],[7,-0.15],[8,-0.08],[10,-0.02],[12,0.03],[15,0.07],[19,0.1],[24,0.12],[29,0.13]],
  [[0,-0.62],[1,-0.55],[2,-0.5],[3,-0.48],[4,-0.52],[5,-0.5],[6,-0.42],[7,-0.35],[8,-0.26],[9,-0.18],[10,-0.1],[11,-0.02],[13,0.04],[16,0.08],[20,0.1],[25,0.12],[30,0.13]],
  [[0,-0.7],[1,-0.64],[2,-0.6],[3,-0.55],[4,-0.5],[5,-0.48],[6,-0.45],[7,-0.38],[8,-0.3],[9,-0.2],[10,-0.12],[12,-0.02],[14,0.04],[17,0.08],[21,0.1],[26,0.12],[31,0.13]],
  [[0,-0.5],[1,-0.58],[2,-0.55],[3,-0.46],[4,-0.4],[5,-0.35],[6,-0.3],[7,-0.25],[8,-0.2],[9,-0.1],[10,-0.06],[12,0.0],[15,0.05],[18,0.08],[22,0.1],[27,0.12],[32,0.13]],
  [[0,0.62],[1,0.58],[2,0.55],[3,0.5],[4,0.52],[5,0.46],[6,0.42],[8,0.36],[10,0.3],[12,0.32],[14,0.26],[17,0.22],[20,0.19],[24,0.16],[28,0.14],[32,0.13]],
  [[0,0.6],[1,0.62],[2,0.58],[3,0.55],[4,0.56],[6,0.55],[7,0.48],[9,0.4],[11,0.35],[13,0.3],[15,0.28],[17,0.3],[19,0.24],[22,0.19],[26,0.15],[30,0.135],[37.5,0.13]],
  [[0,0.4],[2,0.36],[4,0.26],[6,0.3],[8,0.28],[10,0.24],[12,0.22],[15,0.2],[18,0.22],[21,0.18],[24,0.15],[28,0.135],[32,0.13]],
  [[0,0.15],[1,0.25],[2,0.35],[3,0.3],[4,0.26],[5,0.22],[7,0.18],[9,0.15],[11,0.12],[14,0.11],[18,0.12],[23,0.125],[28,0.13]],
  [[0,-0.08],[1,0.1],[2,0.18],[3,0.15],[4,0.12],[6,0.1],[8,0.09],[10,0.1],[14,0.11],[18,0.12],[23,0.13]],
  [[0,-0.32],[1,-0.1],[2,0.0],[3,0.05],[4,0.08],[6,0.06],[8,0.1],[11,0.12],[15,0.11],[19,0.12],[24,0.13]],
  [[0,0.68],[1,0.7],[2,0.65],[3,0.6],[4,0.55],[5,0.5],[6,0.44],[7,0.4],[9,0.35],[11,0.32],[13,0.28],[15,0.26],[17,0.24],[20,0.2],[24,0.16],[28,0.14],[32,0.13]],
  [[0,0.5],[1,0.56],[2,0.54],[3,0.5],[4,0.48],[6,0.45],[8,0.42],[10,0.38],[11,0.33],[13,0.27],[15,0.22],[18,0.18],[22,0.15],[27,0.135],[31,0.13]]
];
const consensus10 = [[23, 0.13], [50, 0.13]];
const fixed10 = [0.985, 0.965, 0.945, 0.925, 0.905, 0.885, 0.865, 0.845, 0.825, 0.80, 0.78, 0.765, 0.745, 0.725, 0.70, 0.68,
  0.0,
  -0.47, -0.50, -0.585, -0.63, -0.66, -0.68, -0.70, -0.72, -0.735, -0.75, -0.77, -0.795, -0.82, -0.895, -0.91, -0.93, -0.95, -0.97];
const drift10 = [
  [[0,0.8],[2,0.79],[5,0.76],[9,0.735],[14,0.72],[50,0.715]],
  [[0,0.78],[3,0.74],[8,0.72],[50,0.72]],
  [[0,0.76],[4,0.73],[7,0.715],[18,0.71],[50,0.71]],
  [[0,-0.48],[4,-0.5],[8,-0.56],[12,-0.6],[18,-0.635],[50,-0.635]],
  [[0,-0.82],[3,-0.84],[8,-0.85],[50,-0.85]]
];

// ---------------- LAYOUT / STYLE ----------------
const FONT = 'Liberation Serif';
const LINE = '#111';
const FRAME = '#555';
const X_MIN = 0, X_MAX = 50, Y_MIN = -1, Y_MAX = 1;
const grids = [
  {left: 81, top: 14, width: 361, height: 254},
  {left: 549, top: 14, width: 362, height: 254},
  {left: 81, top: 344, width: 361, height: 253},
  {left: 549, top: 344, width: 362, height: 253}
];
const labelPos = [
  {dx: 25, dy: 98}, {dx: 19, dy: 98}, {dx: 25, dy: 66}, {dx: 26, dy: 81}
];

const chart = echarts.init(document.getElementById('chart'), null, {renderer: 'canvas'});

const xAxes = [], yAxes = [], series = [], graphics = [];
const tickStyle = {color: FRAME, width: 1.3};

grids.forEach((g, gi) => {
  const common = {
    gridIndex: gi, type: 'value',
    axisLine: {show: true, onZero: false, lineStyle: {color: FRAME, width: 1.6}},
    axisTick: {show: true, inside: true, length: 16, lineStyle: tickStyle},
    minorTick: {show: true, splitNumber: 2, length: 9, lineStyle: tickStyle},
    splitLine: {show: false}, minorSplitLine: {show: false}
  };
  xAxes.push(Object.assign({}, common, {
    position: 'bottom', min: X_MIN, max: X_MAX, interval: xTicks[1] - xTicks[0],
    axisLabel: {show: true, fontFamily: FONT, fontSize: 22, color: '#222', margin: 6},
    name: '{n|N}{s|step}', nameLocation: 'middle', nameGap: 31,
    nameTextStyle: {
      rich: {
        n: {fontFamily: FONT, fontSize: 25, color: '#222'},
        s: {fontFamily: FONT, fontSize: 13, color: '#222', padding: [11, 0, 0, 1]}
      }
    }
  }));
  xAxes.push(Object.assign({}, common, {
    position: 'top', min: X_MIN, max: X_MAX, interval: xTicks[1] - xTicks[0],
    axisLabel: {show: false}
  }));
  const yLeft = Object.assign({}, common, {
    position: 'left', min: Y_MIN, max: Y_MAX, interval: yTicks[1] - yTicks[0],
    axisLabel: {show: true, fontFamily: FONT, fontSize: 22, color: '#222', margin: 8}
  });
  if (gi % 2 === 0) {
    yLeft.name = '{n|o}{s|i}';
    yLeft.nameLocation = 'middle';
    yLeft.nameRotate = 90;
    yLeft.nameGap = 56;
    yLeft.nameTextStyle = {
      rich: {
        n: {fontFamily: FONT, fontSize: 21, color: '#222'},
        s: {fontFamily: FONT, fontSize: 13, color: '#222', padding: [9, 0, 0, 1]}
      }
    };
  }
  yAxes.push(yLeft);
  yAxes.push(Object.assign({}, common, {
    position: 'right', min: Y_MIN, max: Y_MAX, interval: yTicks[1] - yTicks[0],
    axisLabel: {show: false}
  }));

  graphics.push({
    type: 'text',
    x: g.left + g.width - labelPos[gi].dx,
    y: g.top + labelPos[gi].dy,
    style: {text: panelLabels[gi], font: '23px "' + FONT + '"', fill: '#222', align: 'right', verticalAlign: 'middle'},
    z: 10
  });
});

function addLine(data, gi, w) {
  series.push({
    type: 'line', xAxisIndex: gi * 2, yAxisIndex: gi * 2, data: data,
    symbol: 'none', showSymbol: false, silent: true, animation: false,
    lineStyle: {width: w || 1.3, color: LINE}, z: 2
  });
}

traj00.forEach(v => addLine(steps00.map((x, i) => [x, v[i]]), 0));
addLine(consensus00, 0);

traj02.forEach(v => addLine(steps02.map((x, i) => [x, v[i]]), 1));
addLine(consensus02, 1);
fixed02.forEach(v => addLine([[X_MIN, v], [X_MAX, v]], 1));

traj08.forEach(t => addLine(t, 2));
addLine(consensus08, 2, 1.6);
fixed08.forEach(v => addLine([[X_MIN, v], [X_MAX, v]], 2));
drift08.forEach(t => addLine(t, 2));

traj10.forEach(t => addLine(t, 3));
addLine(consensus10, 3, 1.6);
fixed10.forEach(v => addLine([[X_MIN, v], [X_MAX, v]], 3));
drift10.forEach(t => addLine(t, 3));

chart.setOption({
  backgroundColor: '#fff',
  animation: false,
  grid: grids.map(g => Object.assign({containLabel: false, outerBoundsMode: 'none'}, g)),
  xAxis: xAxes,
  yAxis: yAxes,
  series: series,
  graphic: graphics
});
</script>
</body>
</html>
